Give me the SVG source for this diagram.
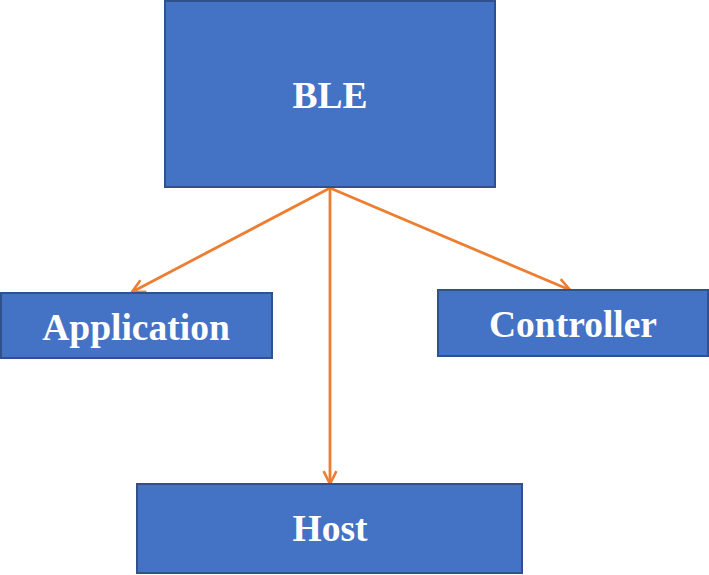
<svg xmlns="http://www.w3.org/2000/svg" width="709" height="575" viewBox="0 0 709 575">
<defs>
<style>
.box{fill:#4472C4;stroke:#2F528F;stroke-width:2}
.lbl{fill:#fff;font-family:"Liberation Serif",serif;font-weight:bold;font-size:37.5px;text-anchor:middle}
.edge{stroke:#ED7D31;stroke-width:2.8;fill:none;marker-end:url(#arr)}
</style>
<marker id="arr" viewBox="0 0 12 12" refX="11" refY="6" markerWidth="5.5" markerHeight="5.5" orient="auto" markerUnits="strokeWidth">
<path d="M1,1 L11,6 L1,11" fill="none" stroke="#ED7D31" stroke-width="2"/>
</marker>
</defs>
<g id="edges">
<line class="edge" x1="330" y1="188" x2="132" y2="292"/>
<line class="edge" x1="330" y1="188" x2="330" y2="484"/>
<line class="edge" x1="330" y1="188" x2="570" y2="290"/>
</g>
<g id="ble"><rect class="box" x="165" y="1" width="330" height="186"/><text class="lbl" x="330" y="108">BLE</text></g>
<g id="application"><rect class="box" x="1" y="293" width="271" height="65"/><text class="lbl" x="136" y="340">Application</text></g>
<g id="controller"><rect class="box" x="438" y="290" width="270" height="66"/><text class="lbl" x="573" y="337">Controller</text></g>
<g id="host"><rect class="box" x="137" y="484" width="385" height="89"/><text class="lbl" x="330" y="541">Host</text></g>
</svg>
